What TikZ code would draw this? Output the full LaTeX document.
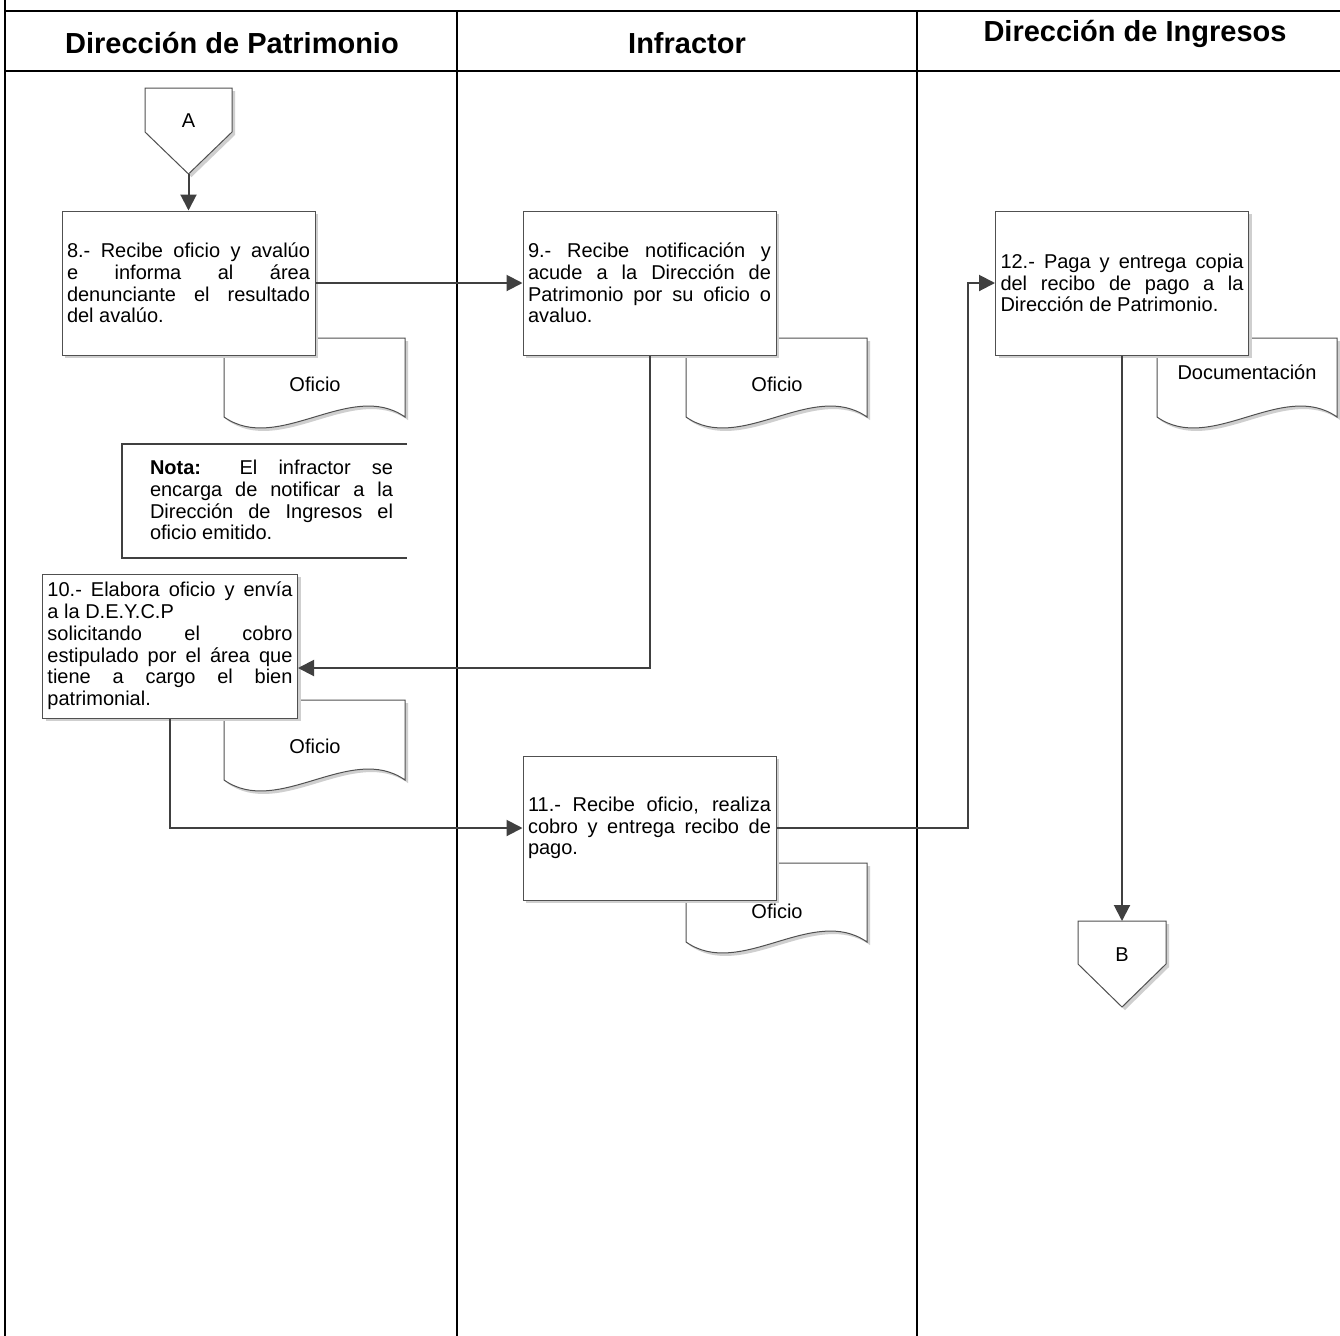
\documentclass[tikz,border=0pt]{standalone}
\usepackage{fontspec}
\setmainfont{Liberation Sans}
\usetikzlibrary{arrows.meta,shadows}
\definecolor{lineg}{HTML}{404040}
\definecolor{boxg}{HTML}{505050}
\definecolor{shad}{HTML}{CFCFCF}
\newcommand{\txtf}{\fontsize{15pt}{16.3pt}\selectfont}
\newcommand{\hdrf}{\fontsize{21.75pt}{24pt}\selectfont\bfseries}
\tolerance=10000
\hbadness=10000
\newcommand{\docshape}[4]{%
  \begin{scope}[shift={(3,3)}]
    \fill[shad] (#1,#2) -- (#3,#2) -- (#3,#4) .. controls ({#3-0.3*(#3-#1)},{#4-38}) and ({#1+0.3*(#3-#1)},{#4+38}) .. (#1,#4) -- cycle;
  \end{scope}
  \draw[docst] (#1,#2) -- (#3,#2) -- (#3,#4) .. controls ({#3-0.3*(#3-#1)},{#4-38}) and ({#1+0.3*(#3-#1)},{#4+38}) .. (#1,#4) -- cycle;
}
\begin{document}
\begin{tikzpicture}[x=0.75pt,y=-0.75pt,
  frame/.style={draw=black,line width=1.5pt},
  hdr/.style={font=\hdrf,inner sep=0pt},
  lbl/.style={font=\txtf,inner sep=0pt},
  docst/.style={draw=boxg,line width=0.75pt,fill=white},
  shapeb/.style={draw=boxg,line width=0.75pt,fill=white},
  proc/.style={draw=boxg,line width=0.75pt,fill=white,font=\txtf,
    text width=182.25pt,inner xsep=3.75pt,inner ysep=0pt,
    minimum height=108pt,align=justify,
    drop shadow={shadow xshift=2.25pt,shadow yshift=-2.25pt,fill=shad,opacity=1}},
  notetxt/.style={font=\txtf,text width=182.25pt,inner sep=0pt,align=justify},
  notebr/.style={draw=lineg,line width=1.5pt},
  conn/.style={draw=lineg,line width=1.5pt,-{Triangle[length=12pt,width=12pt]}}
]
\useasboundingbox (0,0) rectangle (1340,1336);
\fill[white] (0,0) rectangle (1340,1336);

% frame
\draw[frame] (5,0) -- (5,1336);
\draw[frame] (5,11) -- (1340,11);
\draw[frame] (5,71) -- (1340,71);
\draw[frame] (457,11) -- (457,1336);
\draw[frame] (917,11) -- (917,1336);

% headers
\node[hdr] (h1) at (232,43) {Dirección de Patrimonio};
\node[hdr] (h2) at (687,43) {Infractor};
\node[hdr] (h3) at (1135,34) {Dirección de Ingresos};

% documents (behind boxes)
\docshape{224}{338}{405}{417}
\node[lbl] (t8) at (315,384) {Oficio};
\docshape{686}{338}{867}{417}
\node[lbl] (t9) at (777,384) {Oficio};
\docshape{224}{700}{405}{780}
\node[lbl] (t10) at (315,746) {Oficio};
\docshape{686}{863}{867}{942}
\node[lbl] (t11) at (777,911) {Oficio};
\docshape{1157}{338}{1337}{417}
\node[lbl] (t12) at (1247,372) {Documentación};

% off-page connector A
\begin{scope}[shift={(3,3)}]
  \fill[shad] (145,88) -- (232,88) -- (232,132) -- (188.5,174) -- (145,132) -- cycle;
\end{scope}
\draw[shapeb] (145,88) -- (232,88) -- (232,132) -- (188.5,174) -- (145,132) -- cycle;
\node[lbl] (A) at (188.5,121) {A};
\coordinate (Atip) at (188.5,174);

% off-page connector B
\begin{scope}[shift={(3,3)}]
  \fill[shad] (1078,921) -- (1166,921) -- (1166,964) -- (1122,1007) -- (1078,964) -- cycle;
\end{scope}
\draw[shapeb] (1078,921) -- (1166,921) -- (1166,964) -- (1122,1007) -- (1078,964) -- cycle;
\node[lbl] (B) at (1122,955) {B};
\coordinate (Btop) at (1122,921);

% process boxes
\node[proc] (b8) at (188.5,283) {8.- Recibe oficio y avalúo\linebreak e informa al área\linebreak denunciante el resultado\linebreak del avalúo.};
\node[proc] (b9) at (649.5,283) {9.- Recibe notificación y\linebreak acude a la Dirección de\linebreak Patrimonio por su oficio o\linebreak avaluo.};
\node[proc,text width=183.75pt] (b10) at (170,646) {10.- Elabora oficio y envía\linebreak a la D.E.Y.C.P\\ solicitando el cobro\linebreak estipulado por el área que\linebreak tiene a cargo el bien\linebreak patrimonial.};
\node[proc] (b11) at (649.5,828) {11.- Recibe oficio, realiza\linebreak cobro y entrega recibo de\linebreak pago.};
\node[proc] (b12) at (1122,283) {12.- Paga y entrega copia\linebreak del recibo de pago a la\linebreak Dirección de Patrimonio.};

% note
\node[notetxt] (nota) at (271.5,500) {\textbf{Nota:} El infractor se\linebreak encarga de notificar a la\linebreak Dirección de Ingresos el\linebreak oficio emitido.};
\draw[notebr] (407,444) -- (122,444) -- (122,558) -- (407,558);

% connectors
\coordinate (j1) at (650,668);
\coordinate (j2) at (968,0);
\draw[conn] (Atip) -- (b8.north);
\draw[conn] (b8.east) -- (b9.west);
\draw[conn] (b9.south) -- (b9.south |- j1) -- (b10.east |- j1);
\draw[conn] (b10.south) |- (b11.west);
\draw[conn] (b11.east) -- (b11.east -| j2) -- (b12.west -| j2) -- (b12.west);
\draw[conn] (b12.south) -- (Btop);
\end{tikzpicture}
\end{document}
